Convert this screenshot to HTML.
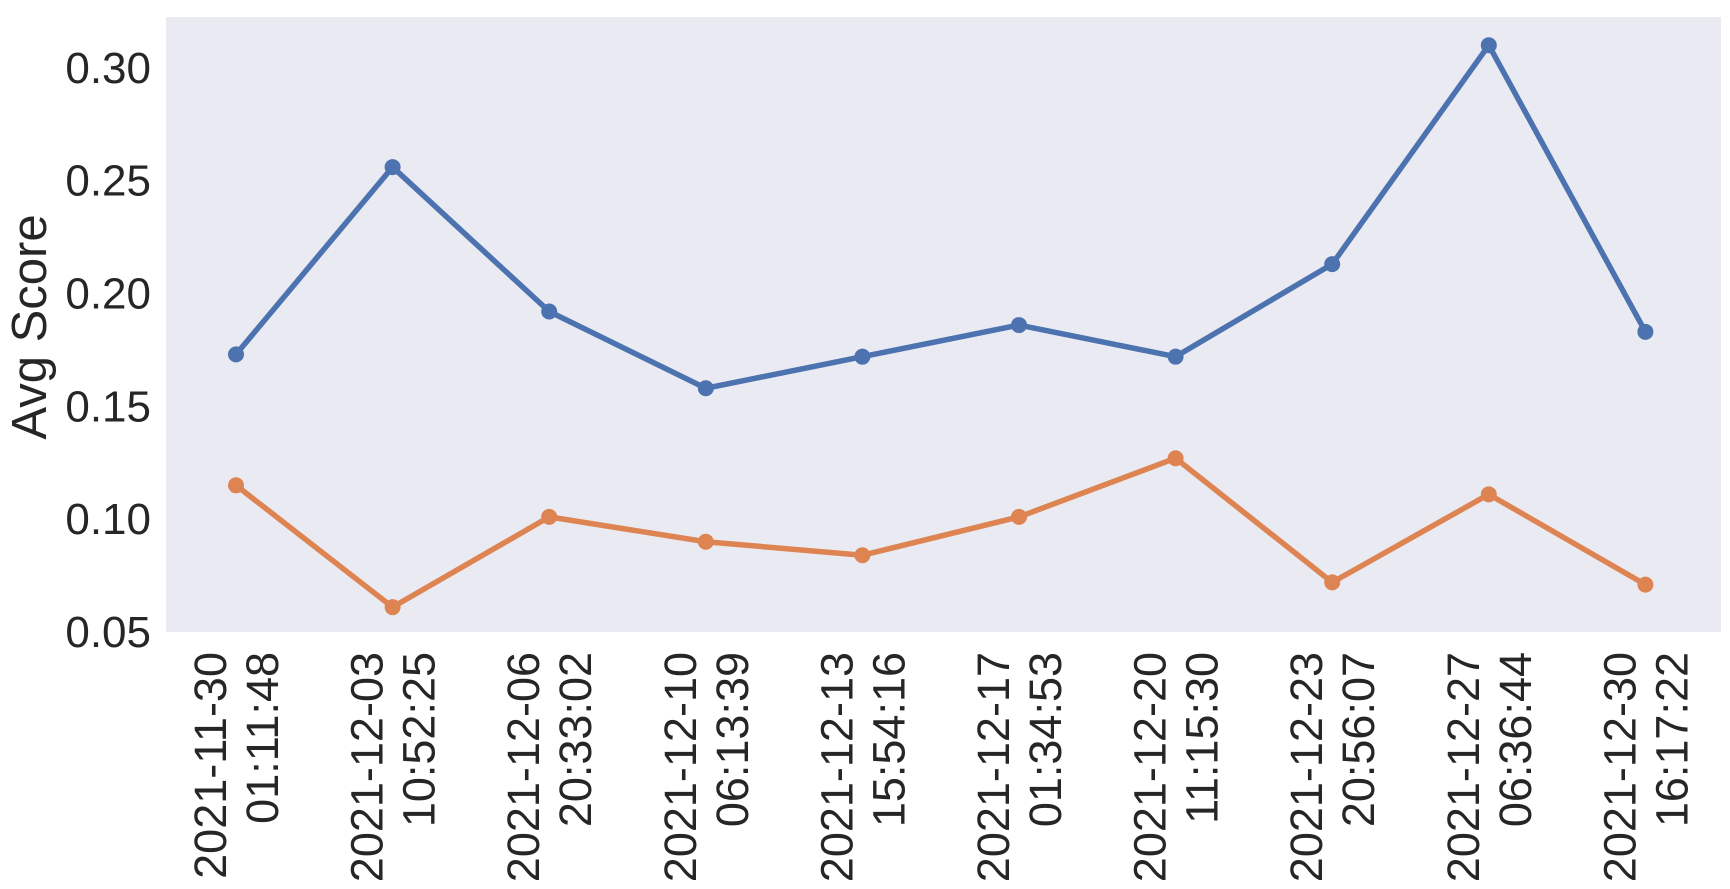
<!DOCTYPE html>
<html><head><meta charset="utf-8"><style>
body{margin:0;background:#fff;}
svg{display:block;font-family:"Liberation Sans",sans-serif;}
</style></head><body>
<svg id="chart" width="1730" height="889" viewBox="0 0 1730 889"></svg>
<script>
const categories=["2021-11-30 01:11:48","2021-12-03 10:52:25","2021-12-06 20:33:02","2021-12-10 06:13:39","2021-12-13 15:54:16","2021-12-17 01:34:53","2021-12-20 11:15:30","2021-12-23 20:56:07","2021-12-27 06:36:44","2021-12-30 16:17:22"];
const seriesBlue=[0.173,0.256,0.192,0.158,0.172,0.186,0.172,0.213,0.310,0.183];
const seriesOrange=[0.115,0.061,0.101,0.090,0.084,0.101,0.127,0.072,0.111,0.071];
const yTicks=[0.05,0.10,0.15,0.20,0.25,0.30];
const yTickLabels=["0.05","0.10","0.15","0.20","0.25","0.30"];

const NS="http://www.w3.org/2000/svg";
const svg=document.getElementById('chart');
const L=166,R=1721,T=17,B=632;
const yMin=0.05,yMax=0.3225;
const y=v=>B-(v-yMin)/(yMax-yMin)*(B-T);
const x0=236,dx=156.6;
const x=i=>x0+i*dx;
function mk(tag,attrs){const e=document.createElementNS(NS,tag);for(const k in attrs)e.setAttribute(k,attrs[k]);svg.appendChild(e);return e;}

const bg=mk('rect',{x:L,y:T,width:R-L,height:B-T,fill:'#eaeaf2'});



yTicks.forEach((v,i)=>{
  const t=mk('text',{x:151,y:y(v)+15,'text-anchor':'end','font-size':44,fill:'#262626'});
  t.textContent=yTickLabels[i];
  
  
});

const yl=mk('text',{x:0,y:0,transform:'translate(46,327) rotate(-90)','text-anchor':'middle','font-size':49,fill:'#262626'});
yl.textContent='Avg Score';



categories.forEach((c,i)=>{
  const parts=c.split(' ');
  const g=document.createElementNS(NS,'g');
  g.setAttribute('transform','translate('+x(i)+',652) rotate(-90)');
  
  
  svg.appendChild(g);
  [parts[0],parts[1]].forEach((s,j)=>{
    const t=document.createElementNS(NS,'text');
    t.setAttribute('x',0);t.setAttribute('y',j===0?-10:42);
    t.setAttribute('text-anchor','end');t.setAttribute('font-size',45);t.setAttribute('fill','#262626');
    t.textContent=s;g.appendChild(t);
  });
});

function drawSeries(vals,color,name){
  const p=mk('polyline',{points:vals.map((v,i)=>x(i)+','+y(v)).join(' '),fill:'none',stroke:color,'stroke-width':5.5,'stroke-linejoin':'round'});
  
  
  vals.forEach((v,i)=>{
    const c=mk('circle',{cx:x(i),cy:y(v),r:8,fill:color});
    
    
  });
}
drawSeries(seriesBlue,'#4c72b0','blue-series');
drawSeries(seriesOrange,'#dd8452','orange-series');
</script>
</body></html>
